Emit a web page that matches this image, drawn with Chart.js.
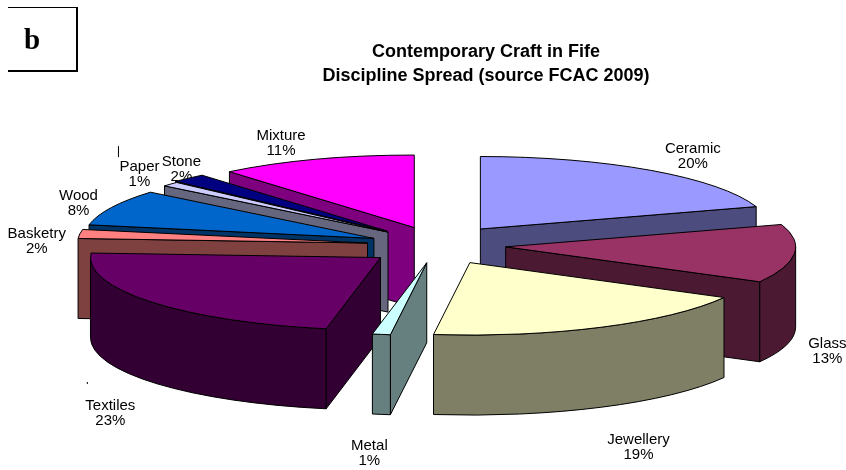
<!DOCTYPE html>
<html>
<head>
<meta charset="utf-8">
<title>Contemporary Craft in Fife</title>
<script src="https://cdn.jsdelivr.net/npm/chart.js@4"></script>
<style>
    body { margin: 0; background: #fff; }
    #wrap { position: relative; width: 846px; height: 470px; }
    #panelTag {
        position: absolute; left: 8px; top: 7px; width: 68px; height: 62px;
        border-top: 1px solid #000; border-right: 2px solid #000; border-bottom: 2px solid #000;
        font: bold 29px "Liberation Serif", serif; line-height: 62px; text-indent: 16px;
    }
</style>
</head>
<body>
<div id="wrap">
    <div id="panelTag">b</div>
    <canvas id="craftChart" width="846" height="470"></canvas>
</div>
<script>
const categories = ['Ceramic', 'Glass', 'Jewellery', 'Metal', 'Textiles', 'Basketry', 'Wood', 'Paper', 'Stone', 'Mixture'];
const shares = [20, 13, 19, 1, 23, 2, 8, 1, 2, 11];
const sliceColors = ['#9999ff', '#993366', '#ffffcc', '#ccffff', '#660066', '#ff8080', '#0066cc', '#ccccff', '#000080', '#ff00ff'];
const explodePx = [84, 79, 79, 72, 69, 63, 62, 60, 60, 70];
const titleLines = ['Contemporary Craft in Fife', 'Discipline Spread (source FCAC 2009)'];

// small corrections on top of the explode distance
const sliceNudge = [[1, 1], [-3, 0], [4, 0], [8, 0], [5, 2], [0, 0], [0, 0], [3, -3], [-2, -3], [8, -1]];
// label shift from the rim of its slice
const labelNudge = [[42, -14], [33, 98], [37, 120], [-12, 119], [-41, 111], [-43, 7], [-33, -4], [-31, -10], [-7, -9], [-35, -16]];
// leftover leader line bits: slice index, x and y range from the label centre
const leaderBits = [[7, -21, -28, -17], [4, -23, -31, -29]];

const pieX = 430, pieY = 245, squash = 0.25, depth = 80;

function sideColor(hex) {
    const n = parseInt(hex.slice(1), 16);
    return `rgb(${(n >> 16) >> 1},${((n >> 8) & 255) >> 1},${(n & 255) >> 1})`;
}

const pie3d = {
    id: 'pie3d',
    beforeDatasetsDraw(chart) {
        const ctx = chart.ctx;
        const arcs = chart.getDatasetMeta(0).data.map((arc, i) => {
            const p = arc.getProps(['startAngle', 'endAngle', 'outerRadius']);
            const mid = (p.startAngle + p.endAngle) / 2;
            const off = arc.options.offset / 4;
            return {
                i, mid,
                a0: p.startAngle, a1: p.endAngle, r: p.outerRadius,
                x: pieX + Math.cos(mid) * off + sliceNudge[i][0],
                y: pieY + Math.sin(mid) * off * squash + sliceNudge[i][1]
            };
        });

        // far slices first
        const byDepth = arcs.slice().sort((a, b) => Math.sin(a.mid) - Math.sin(b.mid));
        ctx.save();
        ctx.lineWidth = 1;
        ctx.strokeStyle = '#000';
        ctx.lineJoin = 'round';

        // labels sit under the slices
        ctx.fillStyle = '#000';
        ctx.font = '15px "Liberation Sans", Arial, sans-serif';
        ctx.textAlign = 'center';
        ctx.textBaseline = 'middle';
        const labelAt = s => [
            s.x + Math.cos(s.mid) * s.r + labelNudge[s.i][0],
            s.y + Math.sin(s.mid) * s.r * squash + labelNudge[s.i][1]
        ];
        arcs.forEach(s => {
            const [lx, ly] = labelAt(s);
            ctx.fillText(categories[s.i], lx, ly - 7.5);
            ctx.fillText(shares[s.i] + '%', lx, ly + 7.5);
        });
        leaderBits.forEach(([i, dx, y0, y1]) => {
            const [lx, ly] = labelAt(arcs[i]);
            ctx.beginPath();
            ctx.moveTo(lx + dx, ly + y0);
            ctx.lineTo(lx + dx, ly + y1);
            ctx.stroke();
        });

        byDepth.forEach(s => {
            const top = sliceColors[s.i];
            const side = sideColor(top);
            const rim = a => [s.x + Math.cos(a) * s.r, s.y + Math.sin(a) * s.r * squash];
            const paint = color => { ctx.fillStyle = color; ctx.fill(); ctx.stroke(); };

            // cut faces that look at the viewer
            [[s.a0, Math.cos(s.a0) < -1e-6], [s.a1, Math.cos(s.a1) > 1e-6]].forEach(([a, show]) => {
                if (!show) return;
                const [ex, ey] = rim(a);
                ctx.beginPath();
                ctx.moveTo(s.x, s.y);
                ctx.lineTo(ex, ey);
                ctx.lineTo(ex, ey + depth);
                ctx.lineTo(s.x, s.y + depth);
                ctx.closePath();
                paint(side);
            });

            // curved outer wall, only the front half shows
            const from = Math.max(s.a0, 0), to = Math.min(s.a1, Math.PI);
            if (to > from) {
                ctx.beginPath();
                ctx.ellipse(s.x, s.y, s.r, s.r * squash, 0, from, to);
                ctx.ellipse(s.x, s.y + depth, s.r, s.r * squash, 0, to, from, true);
                ctx.closePath();
                paint(side);
            }

            ctx.beginPath();
            ctx.moveTo(s.x, s.y);
            ctx.ellipse(s.x, s.y, s.r, s.r * squash, 0, s.a0, s.a1);
            ctx.closePath();
            paint(top);
        });
        ctx.restore();
        return false;
    }
};

new Chart(document.getElementById('craftChart'), {
    type: 'pie',
    data: {
        labels: categories,
        datasets: [{ data: shares, backgroundColor: sliceColors, offset: explodePx.map(v => v * 4), borderWidth: 0 }]
    },
    plugins: [pie3d],
    options: {
        responsive: false,
        animation: false,
        radius: 290,
        layout: { padding: { left: 126 } },
        plugins: {
            legend: { display: false },
            tooltip: { enabled: false },
            title: {
                display: true,
                text: titleLines,
                color: '#000',
                font: { family: '"Liberation Sans", Arial, sans-serif', size: 18, weight: 'bold', lineHeight: 1.33 },
                padding: { top: 40, bottom: 0 }
            }
        }
    }
});
</script>
</body>
</html>
